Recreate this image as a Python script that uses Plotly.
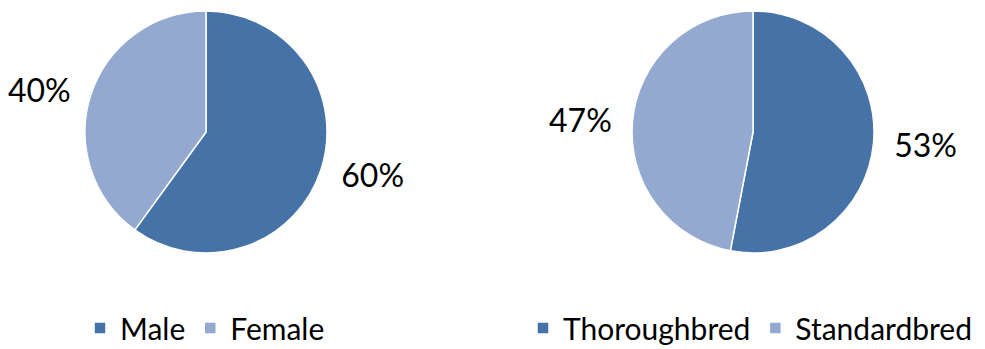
import plotly.graph_objects as go

sex_labels = ["Male", "Female"]
sex_values = [60, 40]
breed_labels = ["Thoroughbred", "Standardbred"]
breed_values = [53, 47]
colors = ["#4572A7", "#93A9CF"]

FONT = "Lato"
W, H = 985, 349


def dom(cx, cy, r):
    return dict(x=[max(0, (cx - r) / W), min(1, (cx + r) / W)],
                y=[max(0, (H - cy - r) / H), min(1, (H - cy + r) / H)])


def add_pie(labels, values, cx, legend):
    # visible pie
    fig.add_trace(go.Pie(
        labels=labels, values=values, sort=False, direction="clockwise",
        rotation=0, marker=dict(colors=colors, line=dict(color="white", width=1.5)),
        textinfo="none", domain=dom(cx, 132, 121),
        legend=legend, hoverinfo="label+percent",
    ))
    # transparent pie carrying the outside percentage labels
    fig.add_trace(go.Pie(
        labels=labels, values=values, sort=False, direction="clockwise",
        rotation=0, marker=dict(colors=["rgba(0,0,0,0)"] * len(labels),
                                line=dict(width=0)),
        textposition="outside", texttemplate="%{percent:.0%}",
        outsidetextfont=dict(family=FONT, size=32, color="#000000"),
        domain=dom(cx, 132, 132), showlegend=False, hoverinfo="skip",
    ))


fig = go.Figure()
add_pie(sex_labels, sex_values, 206, "legend")
add_pie(breed_labels, breed_values, 753, "legend2")

legend_common = dict(orientation="h", yanchor="middle", xanchor="left",
                     xref="container", yref="container",
                     font=dict(family=FONT, size=30, color="#000000"),
                     bgcolor="rgba(0,0,0,0)", itemclick=False, itemdoubleclick=False,
                     tracegroupgap=0)
fig.update_layout(
    width=W, height=H, margin=dict(l=0, r=0, t=0, b=0, autoexpand=False),
    paper_bgcolor="white", plot_bgcolor="white",
    showlegend=True,
    legend=dict(x=80 / W, y=(H - 328) / H, **legend_common),
    legend2=dict(x=523 / W, y=(H - 328) / H, **legend_common),
)

fig.write_html("out.html")
